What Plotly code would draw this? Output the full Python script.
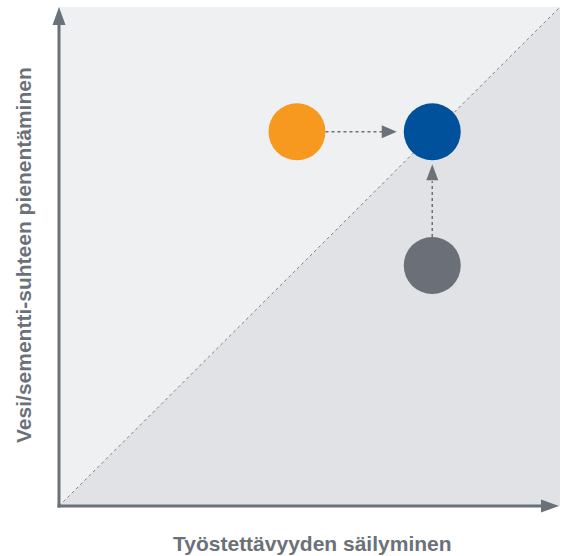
import plotly.graph_objects as go

# --- data ---
point_names = ["Lähtö", "Tavoite", "Vertailu"]
x_vals = [4.75, 7.45, 7.45]
y_vals = [7.5, 7.5, 4.82]
point_colors = ["#f7991f", "#00519c", "#6b7078"]
x_title = "Työstettävyyden säilyminen"
y_title = "Vesi/sementti-suhteen pienentäminen"

W, H = 563, 556
ML, MR, MT, MB = 48, 0, 0, 40
# pixel positions of data 0 and 10
X0, X1, Y0, Y1 = 59, 560, 506, 7
PX = (X1 - X0) / 10.0
PY = (Y0 - Y1) / 10.0
xr = [-(X0 - ML) / PX, 10 + ((W - MR) - X1) / PX]
yr = [-((H - MB) - Y0) / PY, 10 + (Y1 - MT) / PY]
AX = "#6b7178"
R = 28.5  # circle radius px


def paper_x(px):
    return (px - ML) / (W - ML - MR)


def paper_y(py):
    return ((H - MB) - py) / (H - MT - MB)


fig = go.Figure()

xo, yo = x_vals[0], y_vals[0]
xb, yb = x_vals[1], y_vals[1]
xg, yg = x_vals[2], y_vals[2]

# horizontal arrow orange -> blue
h_start = xo + R / PX
h_tip = xb - (R + 7) / PX
h_base = h_tip - 15 / PX
fig.add_trace(go.Scatter(x=[h_start, h_base + 1 / PX], y=[yo, yo], mode="lines",
                         line=dict(color=AX, width=1.5, dash="3px,3px"),
                         hoverinfo="skip", showlegend=False))
fig.add_trace(go.Scatter(x=[h_base, h_tip, h_base, h_base], y=[yo + 6.5 / PY, yo, yo - 6.5 / PY, yo + 6.5 / PY],
                         mode="lines", fill="toself", fillcolor=AX, line=dict(color=AX, width=0),
                         hoverinfo="skip", showlegend=False))
# vertical arrow gray -> blue
v_start = yg + R / PY
v_tip = yb - (R + 4) / PY
v_base = v_tip - 16 / PY
fig.add_trace(go.Scatter(x=[xg, xg], y=[v_start, v_base - 1 / PY], mode="lines",
                         line=dict(color=AX, width=1.5, dash="3px,3px"),
                         hoverinfo="skip", showlegend=False))
fig.add_trace(go.Scatter(x=[xg - 6 / PX, xg, xg + 6 / PX, xg - 6 / PX], y=[v_base, v_tip, v_base, v_base],
                         mode="lines", fill="toself", fillcolor=AX, line=dict(color=AX, width=0),
                         hoverinfo="skip", showlegend=False))

# circles
fig.add_trace(go.Scatter(x=x_vals, y=y_vals, mode="markers", text=point_names,
                         marker=dict(size=2 * R, color=point_colors, line=dict(width=0), opacity=1),
                         hoverinfo="text", showlegend=False))

shapes = [
    dict(type="rect", xref="x", yref="y", x0=0, y0=0, x1=10, y1=10,
         fillcolor="#eff0f2", line=dict(width=0), layer="below"),
    dict(type="path", xref="x", yref="y", path="M0,0 L10,0 L10,10 Z",
         fillcolor="#e1e2e5", line=dict(width=0), layer="below"),
    dict(type="line", xref="x", yref="y", x0=0, y0=0, x1=10, y1=10,
         line=dict(color="#7d838a", width=1, dash="dot"), layer="below"),
    # y axis
    dict(type="line", xref="x", yref="y", x0=0, y0=-1.5 / PY, x1=0, y1=10 - 17 / PY,
         line=dict(color=AX, width=3), layer="above"),
    dict(type="path", xref="x", yref="y",
         path=f"M{-6.5/PX},{10-18/PY} L0,10 L{6.5/PX},{10-18/PY} Z",
         fillcolor=AX, line=dict(width=0), layer="above"),
    # x axis
    dict(type="line", xref="x", yref="y", x0=-1.5 / PX, y0=0, x1=10 - 19 / PX, y1=0,
         line=dict(color=AX, width=3), layer="above"),
    dict(type="path", xref="x", yref="y",
         path=f"M{10-19/PX},{6.5/PY} L{10-1/PX},0 L{10-19/PX},{-6.5/PY} Z",
         fillcolor=AX, line=dict(width=0), layer="above"),
]

annotations = [
    dict(text=f"<b>{x_title}</b>", xref="paper", yref="paper",
         x=paper_x(312), y=paper_y(543),
         xanchor="center", yanchor="middle", showarrow=False,
         font=dict(family="Liberation Sans, Arial, sans-serif", size=21, color=AX)),
    dict(text=f"<b>{y_title}</b>", xref="paper", yref="paper",
         x=paper_x(23), y=paper_y(255),
         xanchor="center", yanchor="middle", showarrow=False, textangle=-90,
         font=dict(family="Liberation Sans, Arial, sans-serif", size=21, color=AX)),
]

fig.update_layout(
    width=W, height=H,
    margin=dict(l=ML, r=MR, t=MT, b=MB, pad=0),
    paper_bgcolor="white", plot_bgcolor="white",
    shapes=shapes, annotations=annotations,
    xaxis=dict(range=xr, visible=False, fixedrange=True),
    yaxis=dict(range=yr, visible=False, fixedrange=True),
    showlegend=False,
)

fig.write_html("out.html", config={"displayModeBar": False},
               post_script="document.body.style.margin='0';document.body.style.overflow='hidden';")
